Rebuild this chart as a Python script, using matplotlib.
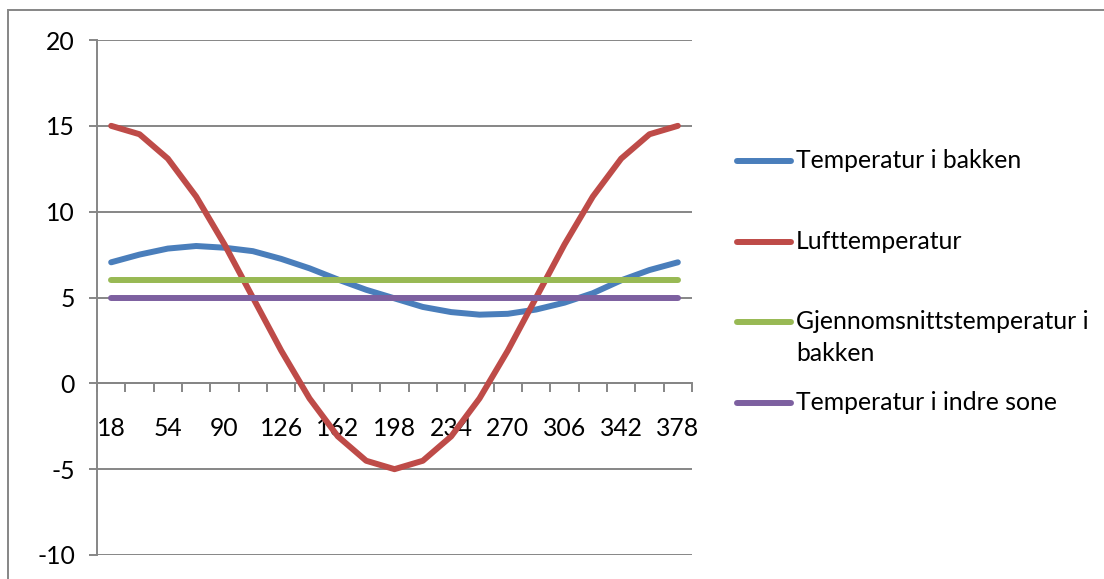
import numpy as np
import matplotlib
matplotlib.use("Agg")
import matplotlib.pyplot as plt
from matplotlib.lines import Line2D
from matplotlib.patches import Rectangle

plt.rcParams['font.family'] = ['Lato', 'DejaVu Sans']
plt.rcParams['axes.unicode_minus'] = False

# dag i året
dager = [18, 36, 54, 72, 90, 108, 126, 144, 162, 180, 198,
         216, 234, 252, 270, 288, 306, 324, 342, 360, 378]

bakke = [7.05, 7.5, 7.85, 8.0, 7.9, 7.7, 7.25, 6.7, 6.05, 5.45, 4.95,
         4.45, 4.15, 4.0, 4.05, 4.3, 4.7, 5.25, 6.0, 6.6, 7.05]
luft = [15.0, 14.51, 13.09, 10.88, 8.09, 5.0, 1.91, -0.88, -3.09, -4.51, -5.0,
        -4.51, -3.09, -0.88, 1.91, 5.0, 8.09, 10.88, 13.09, 14.51, 15.0]
snitt_bakke = [6.0] * len(dager)
indre_sone = [5.0] * len(dager)

navn = ["Temperatur i bakken", "Lufttemperatur",
        "Gjennomsnittstemperatur i\nbakken", "Temperatur i indre sone"]
farger = ["#4A7EBB", "#BE4B48", "#98B954", "#7D60A0"]

grey = "#868686"
fs = 17.8

fig = plt.figure(figsize=(11.04, 5.79), dpi=100)
ax = fig.add_axes([97/1104, 24/579, 595/1104, 515/579])

x = np.arange(len(dager))
for serie, farge in zip([bakke, luft, snitt_bakke, indre_sone], farger):
    ax.plot(x, serie, color=farge, lw=4.3, solid_capstyle='round', zorder=3)

ax.set_xlim(-0.5, len(dager) - 0.5)
ax.set_ylim(-10, 20)
ax.set_yticks(range(-10, 21, 5))
ax.yaxis.grid(True, color=grey, lw=1.4)
ax.set_axisbelow(True)

for s in ['top', 'right']:
    ax.spines[s].set_visible(False)
ax.spines['left'].set_color(grey)
ax.spines['left'].set_linewidth(1.4)
ax.spines['bottom'].set_color(grey)
ax.spines['bottom'].set_linewidth(1.4)
ax.spines['bottom'].set_position(('data', 0))

# tick marks between categories, labels on every second category
ax.set_xticks(np.arange(-0.5, len(dager), 1))
ax.set_xticklabels([])
ax.set_xticks(x[::2], minor=True)
ax.set_xticklabels([str(d) for d in dager[::2]], minor=True, fontsize=fs)
ax.tick_params(axis='x', which='major', length=6.5, width=1.4, color=grey, direction='out')
ax.tick_params(axis='x', which='minor', length=0, pad=24)
ax.tick_params(axis='y', length=5.8, width=1.4, color=grey, labelsize=fs, pad=10)

# legend
ly = 1 - 161/579
step = 80.5/579
for label, farge in zip(navn, farger):
    fig.add_artist(Line2D([737/1104, 791/1104], [ly, ly], color=farge, lw=4.3,
                          solid_capstyle='round', transform=fig.transFigure))
    ty = ly - (15.5/579 if '\n' in label else 0)
    fig.text(796/1104, ty, label, fontsize=fs, va='center', linespacing=1.5)
    ly -= step

# outer frame
fig.add_artist(Rectangle((8/1104, -0.1), 1.2, 1.1 - 10/579, transform=fig.transFigure,
                         fill=False, edgecolor=grey, lw=1.4))

fig.savefig("out.png", dpi=100)
